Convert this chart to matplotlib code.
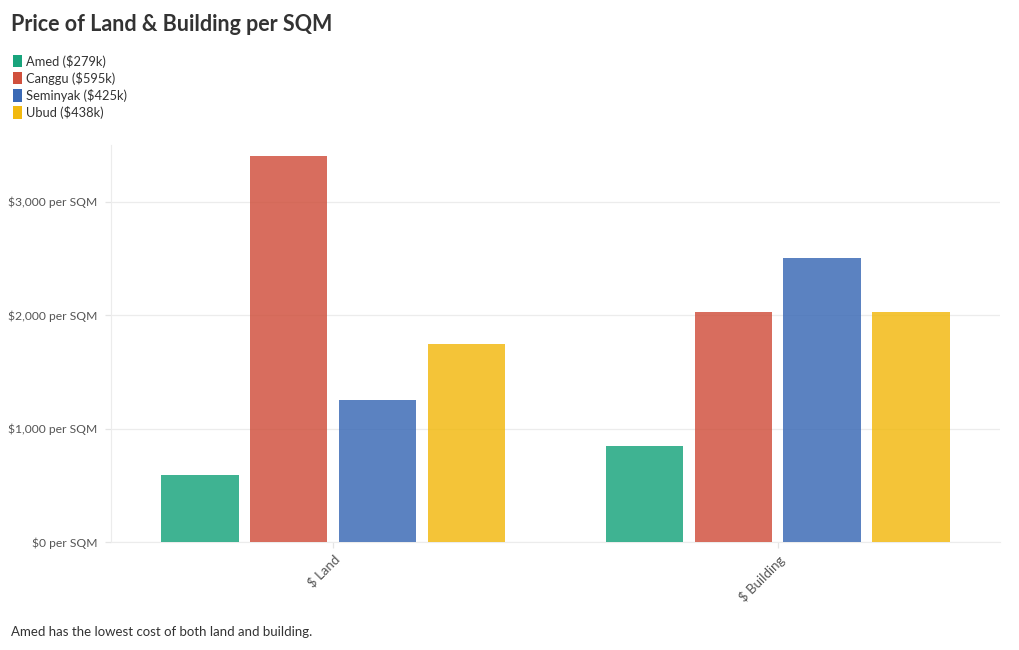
import matplotlib
matplotlib.use("Agg")
import matplotlib.pyplot as plt
import numpy as np
from matplotlib.patches import Patch
from matplotlib.ticker import FuncFormatter

plt.rcParams["font.family"] = ["Lato", "DejaVu Sans"]

# data
categories = ["$ Land", "$ Building"]
areas = ["Amed", "Canggu", "Seminyak", "Ubud"]
legend_labels = ["Amed ($279k)", "Canggu ($595k)", "Seminyak ($425k)", "Ubud ($438k)"]
amed = [590, 850]
canggu = [3400, 2025]
seminyak = [1250, 2500]
ubud = [1750, 2025]
series = [amed, canggu, seminyak, ubud]
y_ticks = [0, 1000, 2000, 3000]

colors = ["#18a47c", "#d0503d", "#3a69b5", "#f2b90f"]

fig = plt.figure(figsize=(10.2, 6.5), dpi=100)
ax = fig.add_axes([0.1088, 0.166, 0.8715, 0.611])

x = np.arange(len(categories))
width = 0.174
offsets = [-0.3, -0.1, 0.1, 0.3]
for vals, off, c in zip(series, offsets, colors):
    ax.bar(x + off, vals, width, color=c, alpha=0.83, linewidth=0, zorder=3)

ax.set_xlim(-0.5, 1.5)
ax.set_ylim(0, 3500)
ax.set_yticks(y_ticks)
ax.yaxis.set_major_formatter(FuncFormatter(lambda v, p: f"${v:,.0f} per SQM"))
ax.set_xticks(x)
ax.set_xticklabels(categories, rotation=45, ha="right", rotation_mode="anchor")

ax.grid(axis="y", color="#ececec", linewidth=0.9, zorder=0)
for side in ["top", "right"]:
    ax.spines[side].set_visible(False)
ax.spines["left"].set_color("#ececec")
ax.spines["bottom"].set_color("#ececec")
ax.tick_params(axis="both", colors="#e4e4e4", length=4, width=0.9)
ax.tick_params(axis="y", labelcolor="#555555", labelsize=8.7, pad=6)
ax.tick_params(axis="x", labelcolor="#555555", labelsize=9.5, pad=4)

fig.text(0.011, 0.962, "Price of Land & Building per SQM", fontsize=15.5,
         fontweight="bold", color="#333333", va="center")

handles = [Patch(facecolor=c, edgecolor="none") for c in colors]
fig.legend(handles, legend_labels, loc="upper left", bbox_to_anchor=(0.004, 0.93),
           frameon=False, fontsize=9.3, handlelength=0.7, handleheight=1.1,
           handletextpad=0.3, labelspacing=0.32, borderpad=0.2, labelcolor="#333333")

fig.text(0.011, 0.028, "Amed has the lowest cost of both land and building.",
         fontsize=9.5, color="#333333", va="center")

fig.savefig("out.png", dpi=100)
